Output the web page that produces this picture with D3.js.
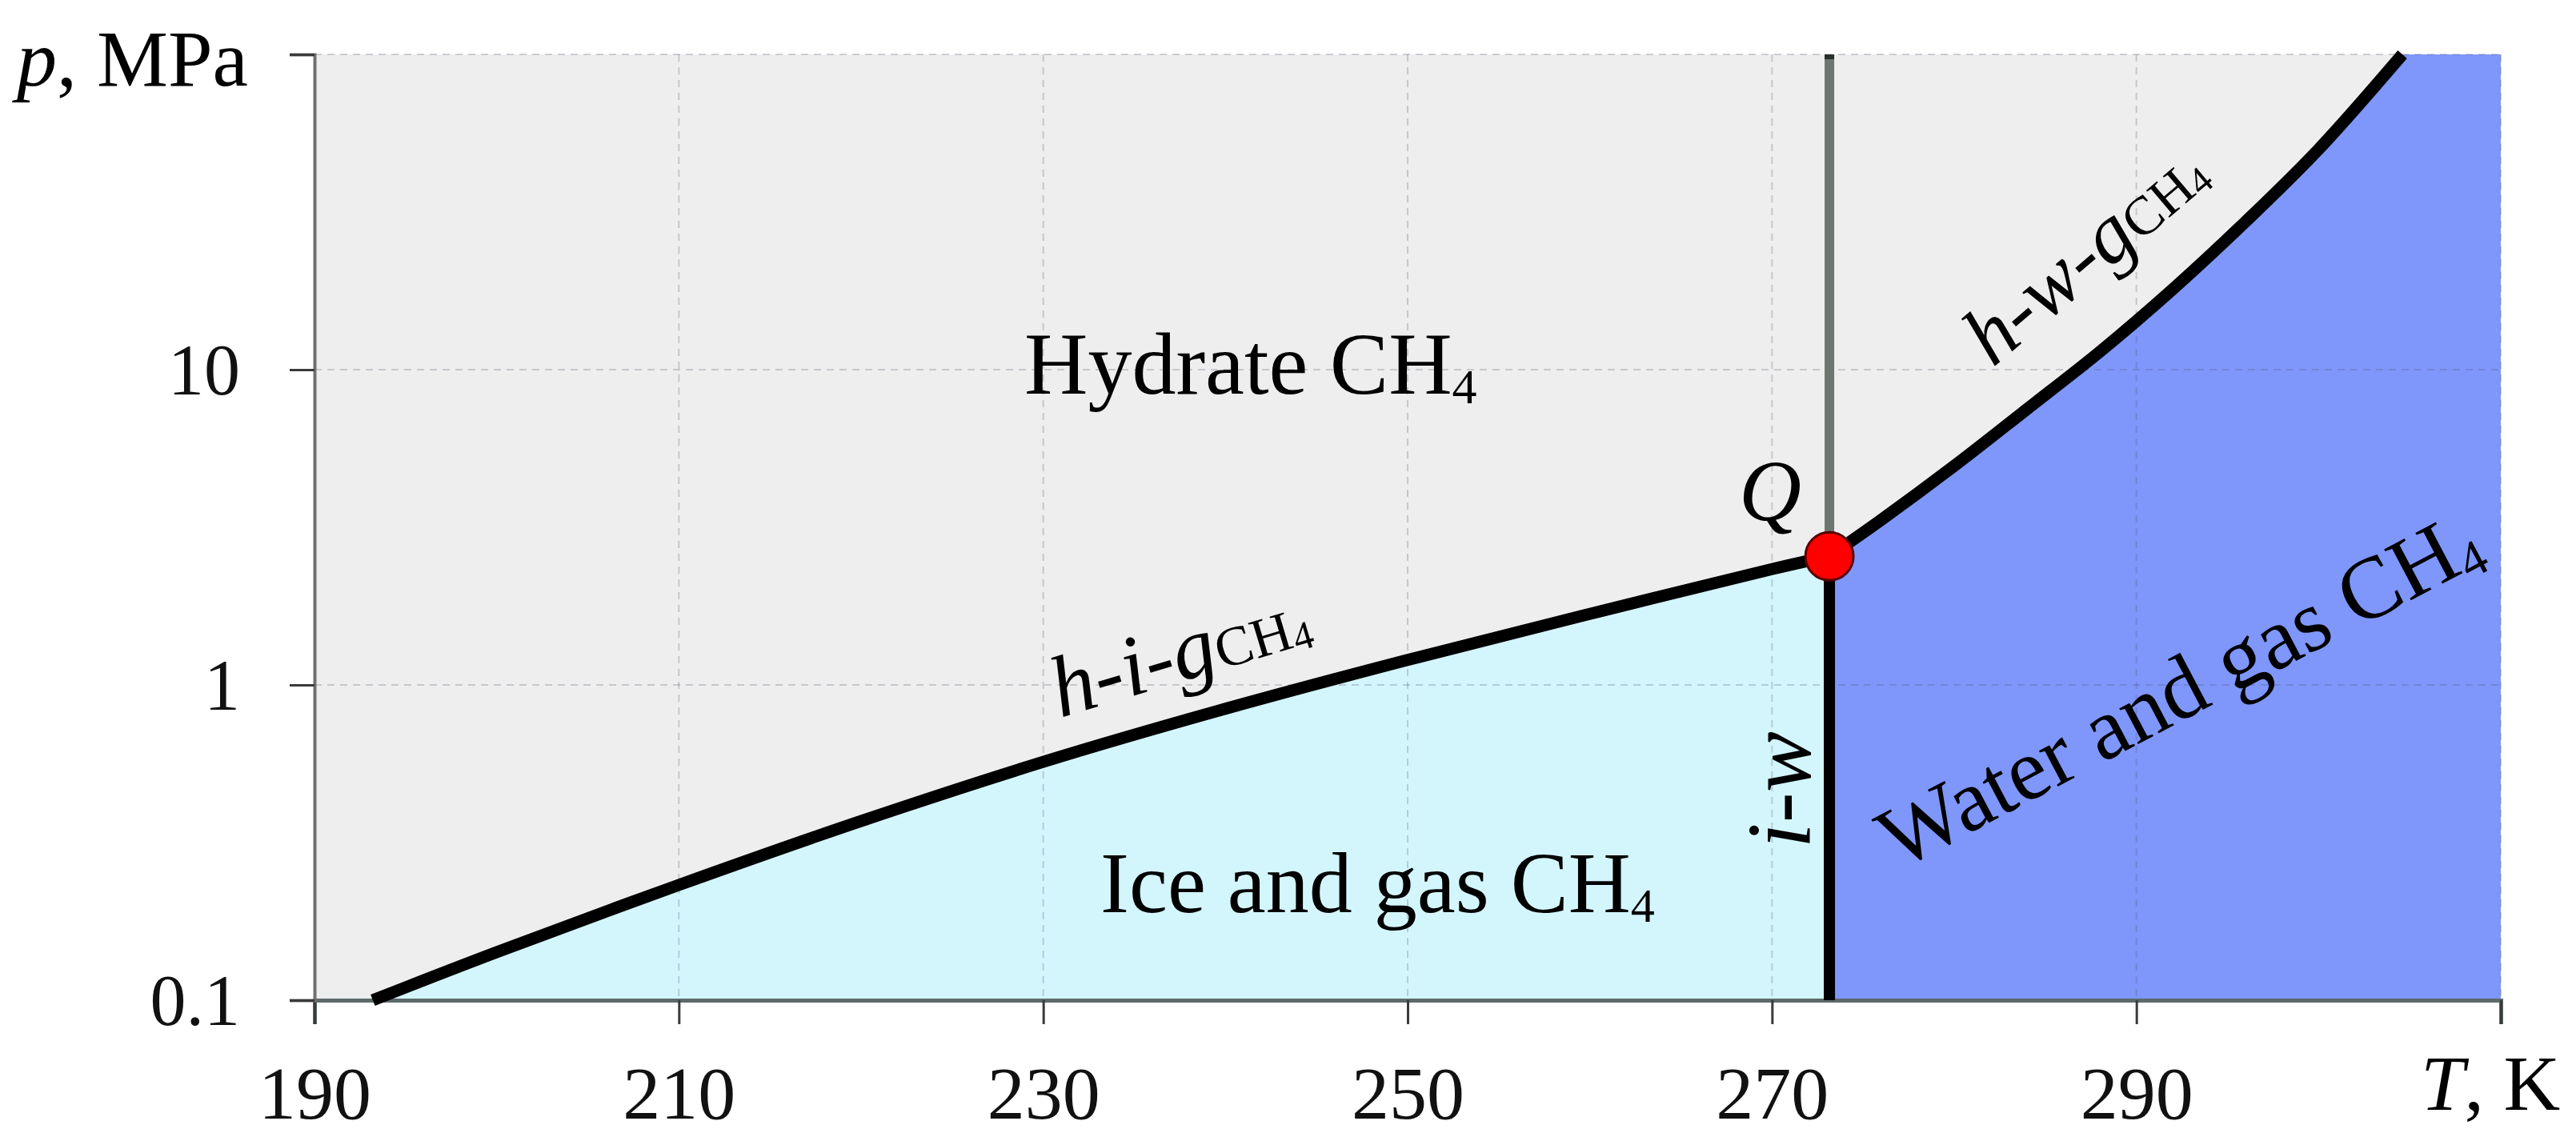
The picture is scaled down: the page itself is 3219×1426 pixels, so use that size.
<!DOCTYPE html>
<html>
<head>
<meta charset="utf-8">
<script src="https://cdn.jsdelivr.net/npm/d3@7"></script>
<style>
  html, body { margin: 0; padding: 0; background: #ffffff; }
  svg { display: block; }
</style>
</head>
<body>
<div id="chart"></div>
<script>
// ---------------- data ----------------
const tDomain = [190, 310];          // T, K
const pDomain = [0.1, 100];          // p, MPa
const xTickValues = [190, 210, 230, 250, 270, 290, 310];
const yTickValues = [0.1, 1, 10, 100];
const xGridValues = [210, 230, 250, 270, 290, 310];
const yGridValues = [1, 10, 100];

// h-i-gCH4 equilibrium (hydrate - ice - gas)
const higT = [193.2, 200, 210, 220, 230, 240, 250, 260, 270, 273.15];
const higP = [0.1, 0.142, 0.232, 0.37, 0.57, 0.84, 1.2, 1.68, 2.33, 2.56];

// h-w-gCH4 equilibrium (hydrate - water - gas)
const hwgT = [273.15, 276, 280, 284, 288, 292, 296, 300, 304.6];
const hwgP = [2.56, 3.34, 4.95, 7.5, 11.4, 18, 29.5, 50, 100];

// quadruple point Q and ice-water line
const qT = 273.15;
const qP = 2.56;

// ---------------- layout ----------------
const W = 3219, H = 1426;
const mLeft = 393, mRight = 3125, mTop = 68, mBottom = 1250;
const serif = "'Liberation Serif', 'DejaVu Serif', 'Times New Roman', serif";

const x = d3.scaleLinear().domain(tDomain).range([mLeft, mRight]);
const y = d3.scaleLog().domain(pDomain).range([mBottom, mTop]);

const svg = d3.select("#chart").append("svg")
  .attr("width", W).attr("height", H)
  .attr("viewBox", `0 0 ${W} ${H}`)
  .attr("font-family", serif);

const hig = higT.map((t, i) => [t, higP[i]]);
const hwg = hwgT.map((t, i) => [t, hwgP[i]]);
const smooth = d3.curveCatmullRom.alpha(0.5);

// ---------------- fills ----------------
svg.append("rect")
  .attr("x", x(tDomain[0])).attr("y", y(pDomain[1]))
  .attr("width", x(tDomain[1]) - x(tDomain[0]))
  .attr("height", y(pDomain[0]) - y(pDomain[1]))
  .attr("fill", "#eeeeee");

svg.append("rect")
  .attr("x", x(qT)).attr("y", y(pDomain[1]))
  .attr("width", x(tDomain[1]) - x(qT))
  .attr("height", y(pDomain[0]) - y(pDomain[1]))
  .attr("fill", "#7f97fb");

svg.append("path")
  .datum(hwg)
  .attr("d", d3.area()
    .x(d => x(d[0])).y0(y(pDomain[1])).y1(d => y(d[1]))
    .curve(smooth))
  .attr("fill", "#eeeeee");

svg.append("path")
  .datum(hig)
  .attr("d", d3.area()
    .x(d => x(d[0])).y0(y(pDomain[0])).y1(d => y(d[1]))
    .curve(smooth))
  .attr("fill", "#d3f6fd");

// ---------------- grid ----------------
const grid = svg.append("g")
  .attr("stroke", "rgba(80,80,110,0.25)")
  .attr("stroke-width", 2)
  .attr("stroke-dasharray", "9,7");
grid.selectAll("line.vx").data(xGridValues).join("line")
  .attr("class", "vx")
  .attr("x1", d => x(d)).attr("x2", d => x(d))
  .attr("y1", y(pDomain[1])).attr("y2", y(pDomain[0]));
grid.selectAll("line.hy").data(yGridValues).join("line")
  .attr("class", "hy")
  .attr("x1", x(tDomain[0])).attr("x2", x(tDomain[1]))
  .attr("y1", d => y(d)).attr("y2", d => y(d));

// ---------------- axes ----------------
const xAxis = d3.axisBottom(x)
  .tickValues(xTickValues)
  .tickSize(30)
  .tickPadding(50)
  .tickFormat(d => d === 310 ? "" : d3.format("d")(d));
const gx = svg.append("g")
  .attr("transform", `translate(0,${mBottom})`)
  .call(xAxis)
  .attr("font-family", serif);
gx.select(".domain").attr("stroke", "#5c6a6a").attr("stroke-width", 5);
gx.selectAll(".tick line").attr("stroke", "#3a3a3a").attr("stroke-width", 3);
gx.selectAll(".tick text")
  .attr("font-family", serif).attr("font-size", 94)
  .attr("fill", "#111").attr("dy", 0).attr("y", 1398 - mBottom);

const yAxis = d3.axisLeft(y)
  .tickValues(yTickValues)
  .tickSize(31)
  .tickPadding(62)
  .tickFormat(d => d === 100 ? "" : (d < 1 ? d3.format(".1f")(d) : d3.format("d")(d)));
const gy = svg.append("g")
  .attr("transform", `translate(${mLeft},0)`)
  .call(yAxis)
  .attr("font-family", serif);
gy.select(".domain").attr("stroke", "#707070").attr("stroke-width", 4);
gy.selectAll(".tick line").attr("stroke", "#3a3a3a").attr("stroke-width", 3);
gy.selectAll(".tick text")
  .attr("font-family", serif).attr("font-size", 90)
  .attr("fill", "#111").attr("dy", "0.34em");

// ---------------- phase lines ----------------
svg.append("line")
  .attr("x1", x(qT)).attr("x2", x(qT))
  .attr("y1", y(pDomain[1])).attr("y2", y(qP))
  .attr("stroke", "#6f7570").attr("stroke-width", 12);
svg.append("line")
  .attr("x1", x(qT)).attr("x2", x(qT))
  .attr("y1", y(pDomain[1])).attr("y2", y(pDomain[1]) + 6)
  .attr("stroke", "#2a302c").attr("stroke-width", 12);

const line = d3.line().x(d => x(d[0])).y(d => y(d[1])).curve(smooth);
svg.append("path").datum(hig).attr("d", line)
  .attr("fill", "none").attr("stroke", "#000").attr("stroke-width", 15)
  .attr("stroke-linejoin", "round");
svg.append("path").datum(hwg).attr("d", line)
  .attr("fill", "none").attr("stroke", "#000").attr("stroke-width", 15)
  .attr("stroke-linejoin", "round");

svg.append("line")
  .attr("x1", x(qT)).attr("x2", x(qT))
  .attr("y1", y(qP)).attr("y2", y(pDomain[0]))
  .attr("stroke", "#000").attr("stroke-width", 14);

svg.append("circle")
  .attr("cx", x(qT)).attr("cy", y(qP)).attr("r", 30)
  .attr("fill", "#ff0000").attr("stroke", "#5a0000").attr("stroke-width", 3);

// ---------------- labels ----------------
function richText(px, py, angle, parts, anchor) {
  const t = svg.append("text")
    .attr("transform", `translate(${px},${py}) rotate(${angle})`)
    .attr("font-family", serif)
    .attr("fill", "#000")
    .attr("text-anchor", anchor || "start");
  let shift = 0;
  parts.forEach(p => {
    const dy = (p.dy || 0) - shift;
    shift = p.dy || 0;
    t.append("tspan")
      .attr("font-size", p.s)
      .attr("font-style", p.i ? "italic" : "normal")
      .attr("dy", dy)
      .text(p.t);
  });
  return t;
}

richText(1280, 492, 0, [{t: "Hydrate CH", s: 110}, {t: "4", s: 62, dy: 12}]);
richText(1375, 1140, 0, [{t: "Ice and gas CH", s: 108}, {t: "4", s: 60, dy: 12}]);
richText(2372, 1088, -27.8, [{t: "Water and gas CH", s: 110}, {t: "4", s: 64, dy: 12}]);
richText(1325, 897, -16.7, [{t: "h-i-g", s: 108, i: true}, {t: "CH", s: 70}, {t: "4", s: 50, dy: 6}]);
richText(2490, 460, -40.4, [{t: "h-w-g", s: 104, i: true}, {t: "CH", s: 68}, {t: "4", s: 48, dy: 6}]);
richText(2262, 1060, -90, [{t: "i-w", s: 114, i: true}]);
richText(2173, 650, 0, [{t: "Q", s: 108, i: true}]);
richText(21, 107, 0, [{t: "p", s: 100, i: true}, {t: ", MPa", s: 100}]);
richText(3025, 1387, 0, [{t: "T", s: 98, i: true}, {t: ", K", s: 98}]);
</script>
</body>
</html>
